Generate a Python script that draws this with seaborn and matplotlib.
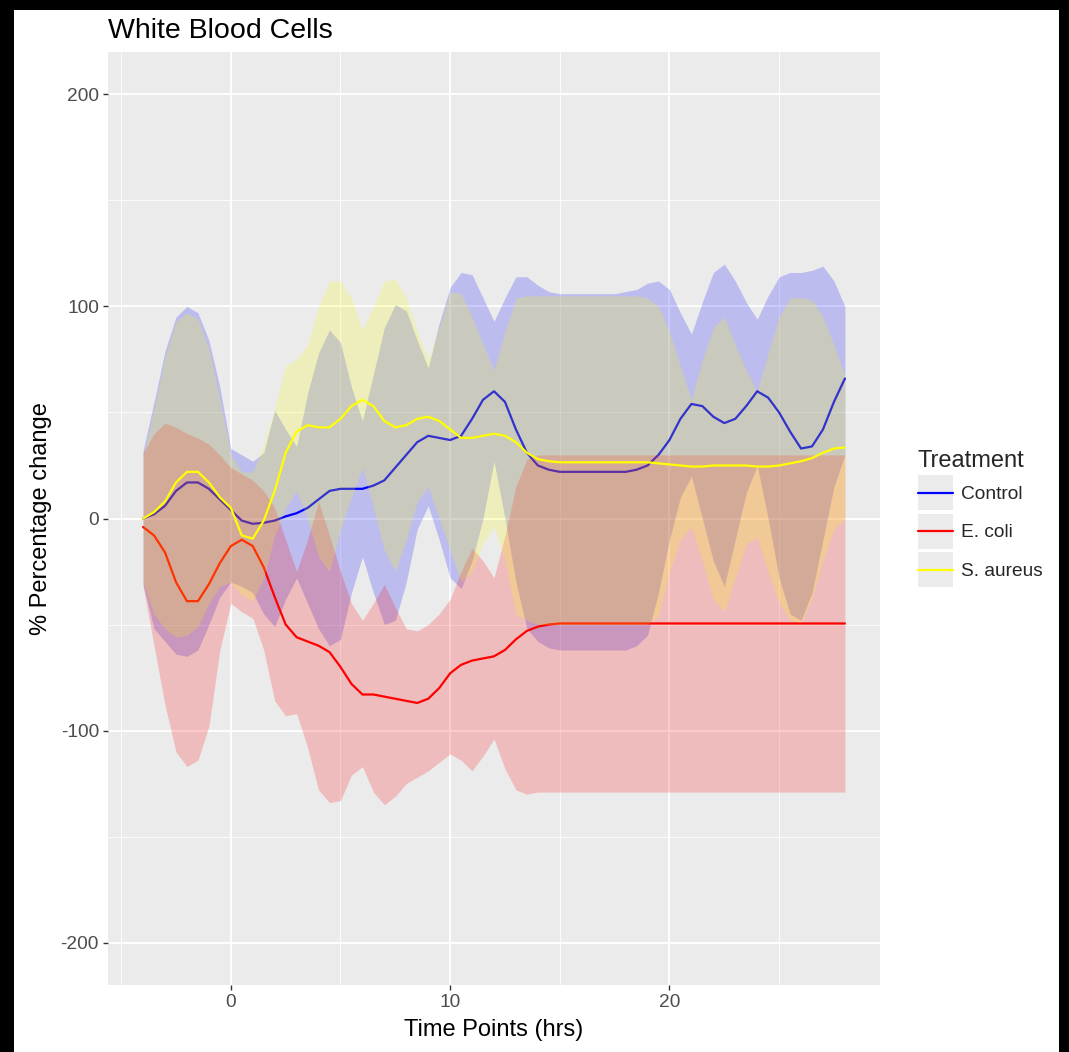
import numpy as np
import pandas as pd
import matplotlib
matplotlib.use("Agg")
import matplotlib.pyplot as plt
import seaborn as sns
from matplotlib.patches import Rectangle
from matplotlib.lines import Line2D
from matplotlib.legend_handler import HandlerLine2D

# ---------------- data ----------------
time_hrs = [-4.0, -3.5, -3.0, -2.5, -2.0, -1.5, -1.0, -0.5,
            0.0, 0.5, 1.0, 1.5, 2.0, 2.5, 3.0, 3.5,
            4.0, 4.5, 5.0, 5.5, 6.0, 6.5, 7.0, 7.5,
            8.0, 8.5, 9.0, 9.5, 10.0, 10.5, 11.0, 11.5,
            12.0, 12.5, 13.0, 13.5, 14.0, 14.5, 15.0, 15.5,
            16.0, 16.5, 17.0, 17.5, 18.0, 18.5, 19.0, 19.5,
            20.0, 20.5, 21.0, 21.5, 22.0, 22.5, 23.0, 23.5,
            24.0, 24.5, 25.0, 25.5, 26.0, 26.5, 27.0, 27.5,
            28.0]

treatments = ["Control", "E. coli", "S. aureus"]

control_mean = [0, 2, 6, 13, 17, 17, 14, 9,
                4, -1, -2.5, -2, -1, 1, 2.5, 5,
                9, 13, 14, 14, 14, 15.5, 18, 24,
                30, 36, 39, 38, 37, 39, 47, 56,
                60, 55, 42, 31, 25, 23, 22, 22,
                22, 22, 22, 22, 22, 23, 25, 30,
                37, 47, 54, 53, 48, 45, 47, 53,
                60, 57, 50, 41, 33, 34, 42, 55,
                66]
control_hi = [32, 55, 79, 95, 100, 97, 84, 62,
              33, 30, 27, 31, 51, 42, 34, 59,
              78, 89, 83, 62, 46, 68, 90, 101,
              98, 84, 71, 92, 109, 116, 115, 104,
              93, 104, 114, 114, 110, 107, 106, 106,
              106, 106, 106, 106, 107, 108, 111, 112,
              108, 97, 87, 102, 116, 120, 112, 102,
              94, 105, 114, 116, 116, 117, 119, 112,
              100]
control_lo = [-31, -52, -58, -64, -65, -62, -50, -37,
              -30, -32, -35, -45, -51, -38, -28, -40,
              -52, -60, -57, -35, -18, -35, -50, -48,
              -30, -5, 6, -10, -28, -33, -20, 0,
              27, 0, -30, -52, -58, -61, -62, -62,
              -62, -62, -62, -62, -62, -60, -55, -35,
              -10, 10, 20, 0, -20, -32, -10, 12,
              25, 0, -28, -45, -48, -35, -10, 15,
              30]

ecoli_mean = [-4, -8, -16, -30, -39, -39, -31, -21,
              -13, -10, -13, -23, -37, -50, -56, -58,
              -60, -63, -70, -78, -83, -83, -84, -85,
              -86, -87, -85, -80, -73, -69, -67, -66,
              -65, -62, -57, -53, -51, -50, -49.5, -49.5,
              -49.5, -49.5, -49.5, -49.5, -49.5, -49.5, -49.5, -49.5,
              -49.5, -49.5, -49.5, -49.5, -49.5, -49.5, -49.5, -49.5,
              -49.5, -49.5, -49.5, -49.5, -49.5, -49.5, -49.5, -49.5,
              -49.5]
ecoli_hi = [31, 40, 45, 43, 40, 38, 35, 30,
            24, 21, 18, 13, 5, -10, -25, -10,
            8, -8, -25, -40, -48, -40, -31, -42,
            -52, -53, -50, -45, -38, -25, -14, -20,
            -28, -8, 15, 28, 30, 30, 30, 30,
            30, 30, 30, 30, 30, 30, 30, 30,
            30, 30, 30, 30, 30, 30, 30, 30,
            30, 30, 30, 30, 30, 30, 30, 30,
            30]
ecoli_lo = [-32, -60, -88, -110, -117, -114, -98, -62,
            -40, -44, -47, -62, -86, -93, -92, -108,
            -128, -134, -133, -121, -117, -129, -135, -131,
            -125, -122, -119, -115, -111, -114, -119, -112,
            -104, -118, -128, -130, -129, -129, -129, -129,
            -129, -129, -129, -129, -129, -129, -129, -129,
            -129, -129, -129, -129, -129, -129, -129, -129,
            -129, -129, -129, -129, -129, -129, -129, -129,
            -129]

saureus_mean = [0, 3, 8, 17, 22, 22, 17, 10,
                5, -8, -9.5, -1, 13, 31, 41, 44,
                43, 43, 47, 53, 56, 53, 46, 43,
                44, 47, 48, 46, 42, 38, 38, 39,
                40, 39, 36, 31, 28, 27, 26.5, 26.5,
                26.5, 26.5, 26.5, 26.5, 26.5, 26.5, 26.5, 26,
                25.5, 25, 24.5, 24.5, 25, 25, 25, 25,
                24.5, 24.5, 25, 26, 27, 28.5, 31, 33,
                33.5]
saureus_hi = [29, 52, 76, 93, 97, 94, 80, 56,
              30, 22, 22, 35, 52, 72, 75, 82,
              100, 112, 112, 104, 89, 100, 112, 113,
              104, 88, 75, 90, 107, 106, 95, 82,
              70, 88, 104, 105, 105, 105, 105, 105,
              105, 105, 105, 105, 105, 105, 104, 100,
              88, 72, 56, 75, 90, 95, 82, 70,
              60, 78, 95, 104, 104, 103, 95, 82,
              67]
saureus_lo = [-30, -45, -52, -56, -55, -51, -40, -32,
              -30, -36, -39, -28, -8, 5, 13, 0,
              -18, -25, -5, 10, 24, 5, -15, -25,
              -10, 8, 15, 0, -15, -30, -25, -12,
              -4, -20, -45, -48, -50, -50, -50, -50,
              -50, -50, -50, -50, -50, -50, -50, -46,
              -25, -10, -4, -20, -38, -44, -28, -12,
              -9, -25, -40, -48, -49, -38, -20, -5,
              0]

colors = {"Control": "#0000FF", "E. coli": "#FF0000", "S. aureus": "#FFFF00"}

frames = []
for name, m, lo, hi in [("Control", control_mean, control_lo, control_hi),
                        ("E. coli", ecoli_mean, ecoli_lo, ecoli_hi),
                        ("S. aureus", saureus_mean, saureus_lo, saureus_hi)]:
    frames.append(pd.DataFrame({"Treatment": name, "time": time_hrs,
                                "mean": m, "lo": lo, "hi": hi}))
df = pd.concat(frames, ignore_index=True)

# ---------------- style ----------------
sns.set_theme(style="darkgrid", rc={
    "axes.facecolor": "#EBEBEB",
    "grid.color": "white",
    "grid.linewidth": 1.3,
})
plt.rcParams["font.family"] = ["Liberation Sans", "DejaVu Sans"]
plt.rcParams["axes.unicode_minus"] = False

W, H = 1069, 1052
fig = plt.figure(figsize=(W / 100, H / 100), dpi=100, facecolor="black")
fig.add_artist(Rectangle((14 / W, 0), (1059 - 14) / W, 1 - 10 / H,
                         transform=fig.transFigure, facecolor="white",
                         edgecolor="none", zorder=-10))

ax = fig.add_axes([108 / W, 1 - 985 / H, (880 - 108) / W, (985 - 52) / H])
ax.set_axisbelow(True)

for i, name in enumerate(treatments):
    sub = df[df["Treatment"] == name]
    ax.fill_between(sub["time"], sub["lo"], sub["hi"], color=colors[name],
                    alpha=0.2, linewidth=0, zorder=2 + 2 * i)
    sns.lineplot(data=sub, x="time", y="mean", color=colors[name],
                 linewidth=1.6, ax=ax, legend=False, errorbar=None)
    ax.lines[-1].set_zorder(3 + 2 * i)

ax.set_xlim(-5.6, 29.6)
ax.set_ylim(-220, 220)
ax.set_xticks([0, 10, 20])
ax.set_yticks([-200, -100, 0, 100, 200])
ax.set_xticks([-5, 5, 15, 25], minor=True)
ax.set_yticks([-150, -50, 50, 150], minor=True)
ax.grid(which="major", color="white", linewidth=1.3)
ax.grid(which="minor", color="white", linewidth=0.6)
ax.tick_params(which="major", length=3.5, width=1.0, color="#333333",
               labelsize=13.8, labelcolor="#4D4D4D", pad=3,
               bottom=True, left=True)
ax.tick_params(which="minor", length=0)
for s in ax.spines.values():
    s.set_visible(False)

ax.set_xlabel("Time Points (hrs)", fontsize=17, color="black", labelpad=6)
ax.set_ylabel("% Percentage change", fontsize=17, color="black", labelpad=6)
ax.set_title("White Blood Cells", loc="left", fontsize=20.5, color="black", pad=10)


class KeyBoxHandler(HandlerLine2D):
    def create_artists(self, legend, orig_handle, xdescent, ydescent,
                       width, height, fontsize, trans):
        box = Rectangle((-xdescent, -ydescent), width, height,
                        facecolor="#EBEBEB", edgecolor="none", transform=trans)
        arts = super().create_artists(legend, orig_handle, xdescent, ydescent,
                                      width, height, fontsize, trans)
        yc = height / 2.0 - ydescent
        for a in arts:
            if isinstance(a, Line2D):
                a.set_ydata([yc] * len(a.get_xdata()))
        return [box] + list(arts)


handles = [Line2D([], [], color=colors[n], linewidth=1.6) for n in treatments]
leg = ax.legend(handles, treatments, title="Treatment", loc="center left",
                bbox_to_anchor=(1.049, 0.5), frameon=False, fontsize=13.8,
                title_fontsize=17, handlelength=1.83, handleheight=2.43,
                labelspacing=0.18, handletextpad=0.4, borderpad=0,
                borderaxespad=0,
                handler_map={Line2D: KeyBoxHandler(marker_pad=0.1)})
leg._legend_box.align = "left"

fig.savefig("out.png", dpi=100, facecolor=fig.get_facecolor())
